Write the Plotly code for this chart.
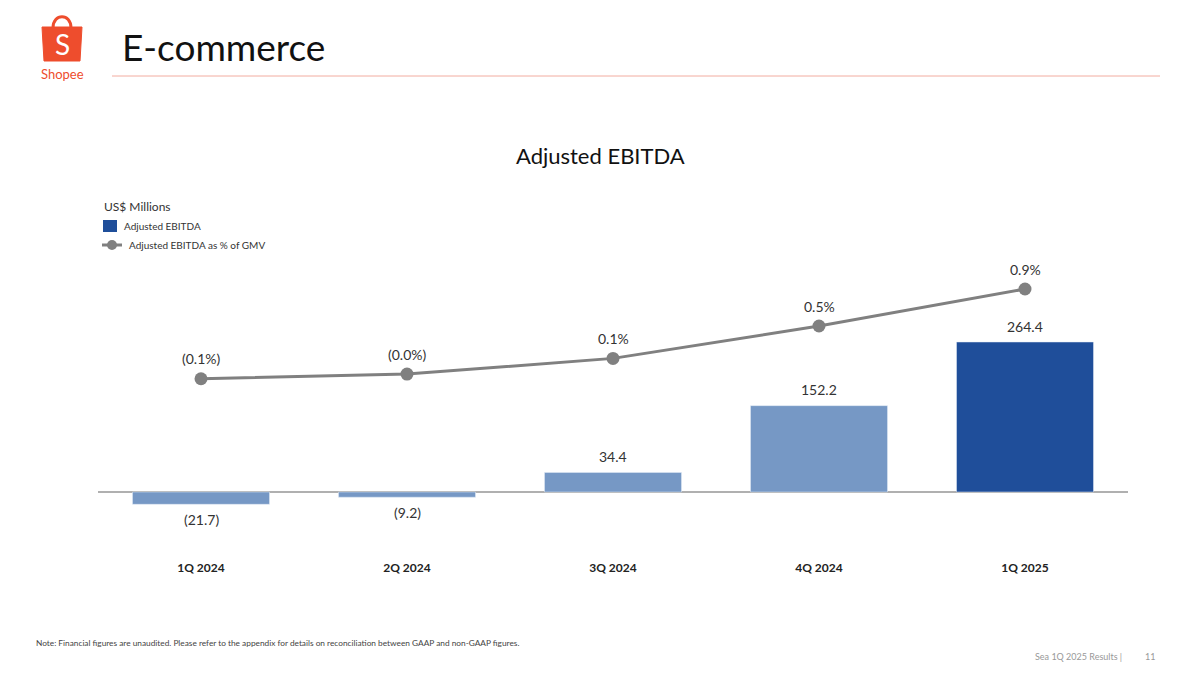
# Shopee E-commerce - Adjusted EBITDA slide
import plotly.graph_objects as go

# Data
quarters = ['1Q 2024', '2Q 2024', '3Q 2024', '4Q 2024', '1Q 2025']
ebitda = [-21.7, -9.2, 34.4, 152.2, 264.4]
ebitda_labels = ['(21.7)', '(9.2)', '34.4', '152.2', '264.4']
pct_gmv = [-0.07, -0.02, 0.15, 0.5, 0.9]
pct_labels = ['(0.1%)', '(0.0%)', '0.1%', '0.5%', '0.9%']

LIGHT_BLUE = '#7698c5'
DARK_BLUE = '#1f4e9a'
GRAY = '#808080'
ORANGE = '#ee4d2d'
FONT = 'Lato'

# page body adds an 8px margin, so work in screen pixels and shift
OFF = 8
W, H = 1200, 675
L, R, T, B = 98 - OFF, 1128 - OFF, 260 - OFF, 550 - OFF


def px(x):
    return (x - OFF - L) / (R - L)


def py(y):
    return (B - (y - OFF)) / (B - T)


bar_colors = [LIGHT_BLUE] * 4 + [DARK_BLUE]

fig = go.Figure()
fig.add_trace(go.Bar(
    x=quarters, y=ebitda, marker_color=bar_colors, width=0.665,
    showlegend=False, hoverinfo='skip'
))
fig.add_trace(go.Scatter(
    x=quarters, y=pct_gmv, yaxis='y2', mode='lines+markers',
    line=dict(color=GRAY, width=3), marker=dict(color=GRAY, size=13),
    cliponaxis=False, showlegend=False, hoverinfo='skip'
))

# y scales: px per US$m, baseline at screen y=492
k1 = 150 / 264.4
k2 = 92.5
base1 = 492 - OFF
zero2 = 372.25 - OFF

fig.update_layout(
    width=W, height=H,
    margin=dict(l=L, r=W - R, t=T, b=H - B),
    paper_bgcolor='white', plot_bgcolor='white',
    font=dict(family=FONT, color='#333333'),
    xaxis=dict(showline=False, showgrid=False, ticks='', ticklabelstandoff=9,
               tickfont=dict(family=FONT, size=12, color='#222222', weight='bold'),
               range=[-0.5, 4.5]),
    yaxis=dict(range=[(base1 - B) / k1, (base1 - T) / k1],
               showgrid=False, showticklabels=False, zeroline=True,
               zerolinecolor='#b0b0b0', zerolinewidth=1.5),
    yaxis2=dict(range=[(zero2 - B) / k2, (zero2 - T) / k2], overlaying='y',
                visible=False),
)

shapes = []
annotations = []


def note(text, x, y, size, color='#333333', xanchor='center', **kw):
    annotations.append(dict(text=text, xref='paper', yref='paper', x=px(x), y=py(y),
                            xanchor=xanchor, yanchor='middle', showarrow=False,
                            font=dict(family=FONT, size=size, color=color, **kw)))


# value labels
for q, v, lab in zip(quarters, ebitda, ebitda_labels):
    annotations.append(dict(text=lab, x=q, y=v, xref='x', yref='y',
                            yanchor='middle', showarrow=False,
                            yshift=16 if v >= 0 else -15,
                            font=dict(family=FONT, size=14, color='#333333')))
for q, v, lab in zip(quarters, pct_gmv, pct_labels):
    annotations.append(dict(text=lab, x=q, y=v, xref='x', yref='y2',
                            yanchor='middle', showarrow=False, yshift=20,
                            font=dict(family=FONT, size=14, color='#333333')))

# header rule
shapes.append(dict(type='line', xref='paper', yref='paper',
                   x0=px(112), x1=px(1160), y0=py(76), y1=py(76),
                   line=dict(color='#f2aca0', width=1)))

# logo bag
bag = (f"M {px(42)} {py(27)} L {px(82)} {py(27)} L {px(80)} {py(61)} "
       f"L {px(44)} {py(61)} Z")
shapes.append(dict(type='path', xref='paper', yref='paper', path=bag,
                   fillcolor=ORANGE, line=dict(color=ORANGE, width=1)))
shapes.append(dict(type='path', xref='paper', yref='paper',
                   path=(f"M {px(53)} {py(28)} C {px(53)} {py(13)}, "
                         f"{px(71)} {py(13)}, {px(71)} {py(28)}"),
                   line=dict(color=ORANGE, width=3)))
note('S', 62, 44, 28, 'white')
note('Shopee', 62, 74, 13, ORANGE)

# titles
note('E-commerce', 120, 46, 37, '#111111', xanchor='left')
note('Adjusted EBITDA', 600, 155, 22, '#111111')

# legend
note('US$ Millions', 102, 206, 12, xanchor='left')
shapes.append(dict(type='rect', xref='paper', yref='paper',
                   x0=px(103), x1=px(117), y0=py(220), y1=py(232),
                   fillcolor=DARK_BLUE, line=dict(width=0)))
note('Adjusted EBITDA', 122, 226, 10, xanchor='left')
shapes.append(dict(type='line', xref='paper', yref='paper',
                   x0=px(102), x1=px(122), y0=py(245), y1=py(245),
                   line=dict(color=GRAY, width=3)))
shapes.append(dict(type='circle', xref='paper', yref='paper',
                   x0=px(107), x1=px(117), y0=py(240), y1=py(250),
                   fillcolor=GRAY, line=dict(width=0)))
note('Adjusted EBITDA as % of GMV', 127, 245, 10, xanchor='left')

# footer
note('Note: Financial figures are unaudited. Please refer to the appendix for details '
     'on reconciliation between GAAP and non-GAAP figures.', 34, 643, 8.3, '#444444', xanchor='left')
note('Sea 1Q 2025 Results |', 1124, 656, 9, '#999999', xanchor='right')
note('11', 1150, 656, 9, '#999999')

fig.update_layout(shapes=shapes, annotations=annotations)

fig.write_html('out.html', config={'displayModeBar': False})
